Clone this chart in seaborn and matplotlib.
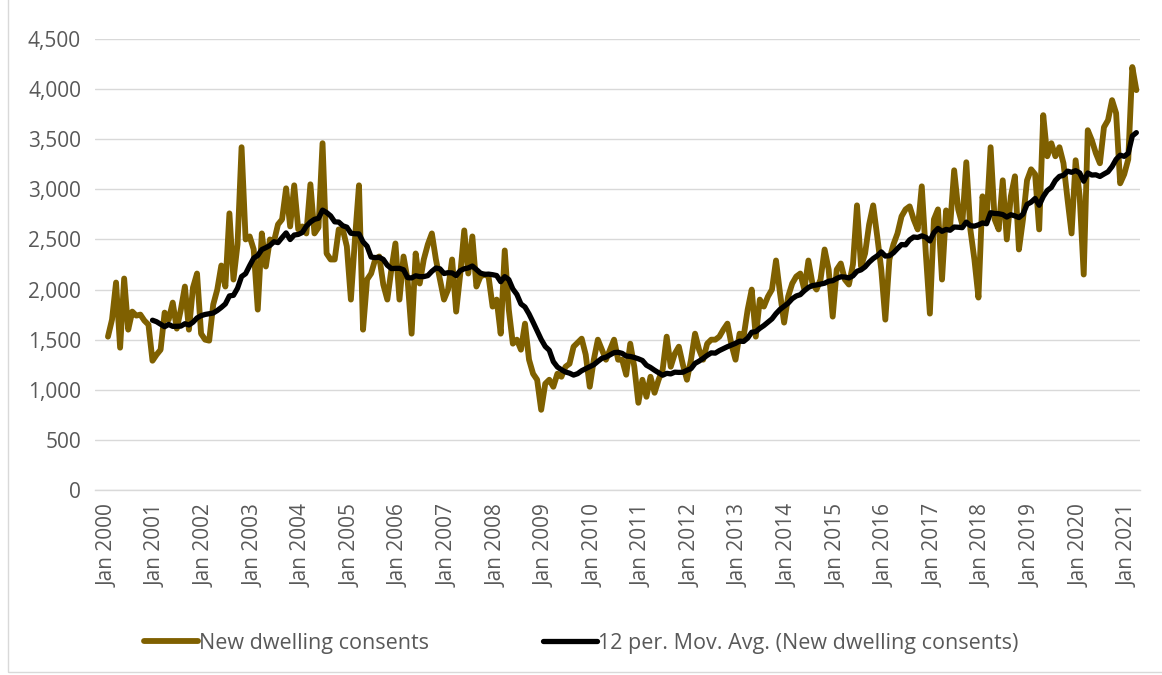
import numpy as np
import pandas as pd
import matplotlib
matplotlib.use("Agg")
import matplotlib.pyplot as plt
import seaborn as sns
from matplotlib.patches import Rectangle
from matplotlib.ticker import FuncFormatter

# Monthly new dwelling consents, Jan 2000 onwards
consents_2000 = [1530, 1700, 2070, 1420, 2110, 1600, 1780, 1740, 1750, 1690, 1650, 1290]
consents_2001 = [1350, 1400, 1770, 1700, 1870, 1610, 1800, 2030, 1600, 2020, 2160, 1560]
consents_2002 = [1500, 1490, 1850, 2000, 2240, 2030, 2760, 2100, 2450, 3420, 2500, 2530]
consents_2003 = [2400, 1800, 2560, 2230, 2500, 2480, 2650, 2700, 3010, 2630, 3040, 2600]
consents_2004 = [2630, 2560, 3050, 2560, 2620, 3460, 2360, 2300, 2300, 2600, 2600, 2430]
consents_2005 = [1900, 2500, 3040, 1600, 2100, 2160, 2300, 2330, 2050, 1900, 2200, 2460]
consents_2006 = [1900, 2330, 2100, 1560, 2360, 2060, 2300, 2450, 2560, 2300, 2100, 1900]
consents_2007 = [2000, 2300, 1780, 2150, 2590, 2160, 2530, 2030, 2130, 2150, 2130, 1830]
consents_2008 = [1900, 1560, 2390, 1800, 1460, 1500, 1400, 1660, 1300, 1160, 1100, 800]
consents_2009 = [1060, 1100, 1030, 1160, 1130, 1230, 1260, 1430, 1470, 1510, 1350, 1030]
consents_2010 = [1300, 1500, 1400, 1300, 1400, 1500, 1300, 1300, 1150, 1460, 1230, 870]
consents_2011 = [1100, 930, 1130, 970, 1100, 1200, 1530, 1230, 1360, 1430, 1250, 1100]
consents_2012 = [1300, 1560, 1400, 1300, 1460, 1500, 1500, 1530, 1600, 1660, 1450, 1300]
consents_2013 = [1560, 1530, 1800, 2000, 1530, 1900, 1830, 1930, 2000, 2290, 1960, 1670]
consents_2014 = [1930, 2060, 2130, 2160, 2000, 2290, 2060, 2000, 2100, 2400, 2200, 1730]
consents_2015 = [2200, 2260, 2100, 2050, 2250, 2840, 2230, 2360, 2650, 2840, 2530, 2200]
consents_2016 = [1700, 2300, 2450, 2560, 2730, 2800, 2830, 2700, 2600, 3030, 2360, 1760]
consents_2017 = [2700, 2800, 2100, 2790, 2630, 3190, 2800, 2650, 3270, 2600, 2300, 1920]
consents_2018 = [2930, 2700, 3420, 2700, 2600, 3090, 2500, 2930, 3130, 2400, 2700, 3090]
consents_2019 = [3200, 3150, 2600, 3740, 3330, 3460, 3330, 3420, 3260, 2900, 2560, 3290]
consents_2020 = [2930, 2150, 3590, 3490, 3360, 3260, 3620, 3690, 3890, 3760, 3060, 3150]
consents_2021 = [3300, 4220, 3990]

consents = (consents_2000 + consents_2001 + consents_2002 + consents_2003 + consents_2004
            + consents_2005 + consents_2006 + consents_2007 + consents_2008 + consents_2009
            + consents_2010 + consents_2011 + consents_2012 + consents_2013 + consents_2014
            + consents_2015 + consents_2016 + consents_2017 + consents_2018 + consents_2019
            + consents_2020 + consents_2021)

tick_years = list(range(2000, 2022))
tick_labels = [f"Jan {y}" for y in tick_years]
y_ticks = [0, 500, 1000, 1500, 2000, 2500, 3000, 3500, 4000, 4500]

series_label = "New dwelling consents"
ma_label = "12 per. Mov. Avg. (New dwelling consents)"

df = pd.DataFrame({"month": np.arange(len(consents)), "consents": consents})
df["ma12"] = df["consents"].rolling(12).mean()

sns.set_theme(style="white")
plt.rcParams["font.family"] = ["Open Sans", "DejaVu Sans"]

W, H = 1162, 675
fig = plt.figure(figsize=(W / 100, H / 100), dpi=100)
ax = fig.add_axes([95 / W, 1 - 490 / H, (1140 - 95) / W, (490 - 39) / H])

sns.lineplot(data=df, x="month", y="consents", ax=ax, color="#7F6000",
             linewidth=4.2, label=series_label,
             solid_joinstyle="round", solid_capstyle="round")
sns.lineplot(data=df.dropna(), x="month", y="ma12", ax=ax, color="black",
             linewidth=3.8, label=ma_label,
             solid_joinstyle="round", solid_capstyle="round")

ax.set_xlim(-3.2, 254.9)
ax.set_ylim(0, 4500)
ax.set_yticks(y_ticks)
ax.yaxis.set_major_formatter(FuncFormatter(lambda v, p: f"{int(v):,}"))
ax.set_xticks([12 * (y - 2000) for y in tick_years])
ax.set_xticklabels(tick_labels, rotation=90, va="top", ha="center")

txt_color = "#595959"
ax.tick_params(axis="y", length=0, pad=10, labelsize=15, labelcolor=txt_color)
ax.tick_params(axis="x", length=0, pad=10, labelsize=15, labelcolor=txt_color)
ax.set_xlabel("")
ax.set_ylabel("")
ax.grid(axis="y", color="#D9D9D9", linewidth=1)
ax.set_axisbelow(True)
for side in ["top", "right", "left"]:
    ax.spines[side].set_visible(False)
ax.spines["bottom"].set_color("#D9D9D9")
ax.spines["bottom"].set_linewidth(1)

ax.legend_.remove()
handles, labels = ax.get_legend_handles_labels()
leg = fig.legend(handles, labels, loc="center", bbox_to_anchor=(0.5, 1 - 643 / H),
                 ncol=2, frameon=False, fontsize=15.5, handlelength=2.5,
                 handletextpad=0.05, columnspacing=5.3)
for t in leg.get_texts():
    t.set_color(txt_color)

# chart-area border
fig.patches.append(Rectangle((8 / W, 3 / H), 2, 2, transform=fig.transFigure,
                             fill=False, edgecolor="#D9D9D9", linewidth=1))

fig.savefig("out.png", dpi=100)
